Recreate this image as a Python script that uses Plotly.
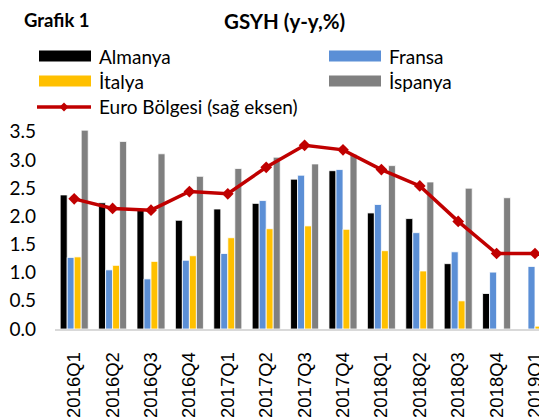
import plotly.graph_objects as go

quarters = ["2016Q1", "2016Q2", "2016Q3", "2016Q4", "2017Q1", "2017Q2", "2017Q3",
            "2017Q4", "2018Q1", "2018Q2", "2018Q3", "2018Q4", "2019Q1"]
almanya = [2.38, 2.24, 2.13, 1.93, 2.13, 2.23, 2.66, 2.81, 2.06, 1.96, 1.16, 0.63, None]
fransa = [1.27, 1.05, 0.89, 1.22, 1.34, 2.28, 2.73, 2.83, 2.21, 1.71, 1.37, 1.01, 1.11]
italya = [1.28, 1.13, 1.20, 1.30, 1.62, 1.78, 1.83, 1.77, 1.39, 1.03, 0.50, -0.02, 0.05]
ispanya = [3.53, 3.33, 3.11, 2.71, 2.85, 3.05, 2.93, 3.10, 2.90, 2.61, 2.50, 2.33, 2.43]
euro = [2.31, 2.14, 2.11, 2.44, 2.40, 2.87, 3.26, 3.18, 2.83, 2.54, 1.91, 1.34, 1.34]
yticks = [0.0, 0.5, 1.0, 1.5, 2.0, 2.5, 3.0, 3.5]

C_BLACK, C_BLUE, C_YEL, C_GRAY, C_RED = "#000000", "#5B8FD6", "#FFC000", "#808080", "#C00000"
FONT = "Lato"

# page has an 8px body margin: lay out in window pixels, offset by 8
OFF = 8
W, H = 547 - OFF, 419 - OFF
ML, MR, MT, MB = 55 - OFF, 0, 129 - OFF, 90
PW, PH = W - ML - MR, H - MT - MB


def px(x):
    return (x - OFF - ML) / PW


def py(y):
    return (H - MB - (y - OFF)) / PH


fig = go.Figure()
for name, vals, col in [("Almanya", almanya, C_BLACK), ("Fransa", fransa, C_BLUE),
                        ("İtalya", italya, C_YEL), ("İspanya", ispanya, C_GRAY)]:
    fig.add_trace(go.Bar(x=quarters, y=vals, name=name, marker_color=col,
                         marker_line=dict(color="white", width=0.8), showlegend=False))
fig.add_trace(go.Scatter(x=quarters, y=euro, name="Euro Bölgesi (sağ eksen)", yaxis="y2",
                         mode="lines+markers", line=dict(color=C_RED, width=3.5),
                         marker=dict(symbol="diamond", size=9, color=C_RED), showlegend=False))

n_vis = PW / 38.4
fig.update_layout(
    width=W, height=H, margin=dict(l=ML, r=MR, t=MT, b=MB, autoexpand=False),
    paper_bgcolor="white", plot_bgcolor="white",
    barmode="group", bargap=0.27, bargroupgap=0,
    font=dict(family=FONT, size=19, color="#000000"),
    xaxis=dict(type="category", range=[-0.5, -0.5 + n_vis], tickangle=-90,
               tickfont=dict(family="Liberation Sans", size=18.5),
               showline=True, linecolor="#D9D9D9", linewidth=1.5, ticks="",
               showgrid=False, ticklabelstandoff=14, automargin=False),
    yaxis=dict(range=[0, 3.55], tickvals=yticks, tickformat=".1f", showgrid=False,
               zeroline=False, showline=False, ticks="", ticklabelstandoff=18,
               tickfont=dict(family=FONT, size=19), automargin=False),
    yaxis2=dict(range=[0, 3.55], overlaying="y", side="right", visible=False,
                automargin=False),
)

ann = []
shapes = []
ann.append(dict(text="<b>Grafik 1</b>", x=px(23), y=py(8), xref="paper", yref="paper",
                xanchor="left", yanchor="top", showarrow=False, borderpad=0,
                font=dict(family=FONT, size=18.5)))
ann.append(dict(text="<b>GSYH (y-y,%)</b>", x=px(284), y=py(8), xref="paper", yref="paper",
                xanchor="center", yanchor="top", showarrow=False, borderpad=0,
                font=dict(family=FONT, size=20.5)))

legend_items = [("Almanya", C_BLACK, 39, 56, "bar"), ("Fransa", C_BLUE, 329, 56, "bar"),
                ("İtalya", C_YEL, 39, 81, "bar"), ("İspanya", C_GRAY, 329, 81, "bar"),
                ("Euro Bölgesi (sağ eksen)", C_RED, 39, 107, "line")]
for label, col, x0, yc, kind in legend_items:
    if kind == "bar":
        shapes.append(dict(type="rect", xref="paper", yref="paper", x0=px(x0), x1=px(x0 + 52),
                           y0=py(yc - 5.5), y1=py(yc + 5.5), fillcolor=col, line=dict(width=0)))
    else:
        shapes.append(dict(type="line", xref="paper", yref="paper", x0=px(x0 - 2), x1=px(x0 + 52),
                           y0=py(yc), y1=py(yc), line=dict(color=col, width=3.5)))
        d = 4.5
        cx = x0 + 25
        path = (f"M {px(cx)} {py(yc - d)} L {px(cx + d)} {py(yc)} "
                f"L {px(cx)} {py(yc + d)} L {px(cx - d)} {py(yc)} Z")
        shapes.append(dict(type="path", xref="paper", yref="paper", path=path,
                           fillcolor=col, line=dict(width=0)))
    ann.append(dict(text=label, x=px(x0 + 58), y=py(yc), xref="paper", yref="paper",
                    xanchor="left", yanchor="middle", showarrow=False,
                    font=dict(family=FONT, size=19)))

fig.update_layout(annotations=ann, shapes=shapes)
fig.write_html("out.html")
